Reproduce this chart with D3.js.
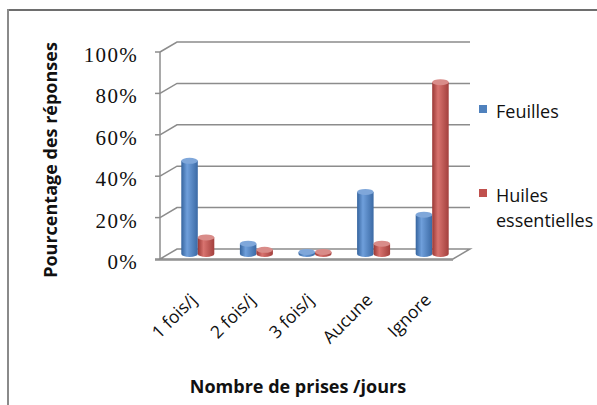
<!DOCTYPE html>
<html>
<head>
<meta charset="utf-8">
<script src="https://cdn.jsdelivr.net/npm/d3@7"></script>
<style>
  html, body { margin: 0; padding: 0; background: #fff; }
  svg { display: block; }
</style>
</head>
<body>
<svg id="chart" width="597" height="405"></svg>
<script>
// Nombre de prises par jour : pourcentage des réponses
const categories = ["1 fois/j", "2 fois/j", "3 fois/j", "Aucune", "Ignore"];
const feuilles = [45, 5, 1, 30, 19];
const huiles = [8, 2, 1, 5, 83];
const yTicks = [0, 20, 40, 60, 80, 100];
const seriesNames = ["Feuilles", "Huiles essentielles"];
const seriesColors = ["#4F81BD", "#C0504D"];

const svg = d3.select("#chart");
const textColor = "#111";

// frame
svg.append("line").attr("x1", 8).attr("x2", 597).attr("y1", 10).attr("y2", 10)
  .attr("stroke", "#6e6e6e").attr("stroke-width", 2);
svg.append("line").attr("x1", 8).attr("x2", 8).attr("y1", 9).attr("y2", 405)
  .attr("stroke", "#8a8a8a").attr("stroke-width", 2);

// 3D projection: front plane scales plus a depth offset
const DX = 17, DY = -10;
const x = d3.scaleBand().domain(categories).range([160, 453]);
const y = d3.scaleLinear().domain([0, 100]).range([259, 52]);
const gridColor = "#8c8c8c";

const grid = svg.append("g");
// back wall gridlines with their diagonal to the axis
yTicks.forEach(t => {
  if (t === 0) return;
  grid.append("polyline")
    .attr("points", [[160, y(t)], [160 + DX, y(t) + DY], [x.range()[1] + DX, y(t) + DY]].join(" "))
    .attr("fill", "none").attr("stroke", gridColor).attr("stroke-width", 1.5);
});
// floor
const x0 = x.range()[0], x1 = x.range()[1];
grid.append("polygon")
  .attr("points", [[x0, y(0)], [x1, y(0)], [x1 + DX, y(0) + DY], [x0 + DX, y(0) + DY]].join(" "))
  .attr("fill", "#fff").attr("stroke", gridColor).attr("stroke-width", 1.5);
grid.append("line").attr("x1", x0 - 5).attr("x2", x1).attr("y1", y(0) + 1).attr("y2", y(0) + 1)
  .attr("stroke", gridColor).attr("stroke-width", 1.5);

// vertical axis with tick marks
grid.append("line").attr("x1", x0).attr("x2", x0).attr("y1", y(100)).attr("y2", y(0))
  .attr("stroke", gridColor).attr("stroke-width", 1.5);
grid.selectAll(".tick").data(yTicks).enter().append("line")
  .attr("x1", x0 - 5).attr("x2", x0).attr("y1", d => y(d)).attr("y2", d => y(d))
  .attr("stroke", gridColor).attr("stroke-width", 1.5);

// y tick labels
svg.append("g").selectAll("text").data(yTicks).enter().append("text")
  .attr("x", 138).attr("y", d => y(d) + 10)
  .attr("text-anchor", "end")
  .attr("font-family", "Liberation Serif, serif").attr("font-size", 21)
  .attr("letter-spacing", 1.3)
  .attr("fill", textColor)
  .text(d => d + "%");

// cylinder gradients
const defs = svg.append("defs");
const shades = [
  ["#35649e", "#6f9fdb", "#3b6aa5"],
  ["#9a3835", "#d8736f", "#a3403d"]
];
shades.forEach((s, i) => {
  const g = defs.append("linearGradient").attr("id", "cyl" + i)
    .attr("x1", "0%").attr("x2", "100%").attr("y1", "0%").attr("y2", "0%");
  g.append("stop").attr("offset", "0%").attr("stop-color", s[0]);
  g.append("stop").attr("offset", "35%").attr("stop-color", s[1]);
  g.append("stop").attr("offset", "100%").attr("stop-color", s[2]);
});
const topColors = ["#7fa7da", "#d98c89"];

// bars (cylinders) at mid depth
const barW = 16.5, ry = 3;
const rows = categories.map((c, i) => ({ cat: c, vals: [feuilles[i], huiles[i]] }));
const bars = svg.append("g");
rows.forEach(r => {
  const cx = x(r.cat) + x.bandwidth() / 2 + DX / 2;
  r.vals.forEach((v, s) => {
    const left = cx - barW + s * barW;
    const yb = y(0) + DY / 2;
    const yt = y(v) + DY / 2;
    const rx = barW / 2;
    bars.append("path")
      .attr("d", `M${left},${yt} L${left},${yb} A${rx},${ry} 0 0 0 ${left + barW},${yb} L${left + barW},${yt} Z`)
      .attr("fill", `url(#cyl${s})`);
    bars.append("ellipse")
      .attr("cx", left + rx).attr("cy", yt).attr("rx", rx).attr("ry", ry)
      .attr("fill", topColors[s]);
  });
});

// x tick labels
svg.append("g").selectAll("text").data(categories).enter().append("text")
  .attr("transform", d => `translate(${x(d) + x.bandwidth() / 2 + DX / 2},${301}) rotate(-45)`)
  .attr("text-anchor", "end")
  .attr("font-family", "Open Sans, sans-serif").attr("font-size", 17.5)
  .attr("fill", textColor)
  .text(d => d);

// axis titles
svg.append("text")
  .attr("transform", "translate(57,160) rotate(-90)")
  .attr("text-anchor", "middle")
  .attr("font-family", "Open Sans, sans-serif").attr("font-weight", "bold").attr("font-size", 18)
  .attr("fill", textColor)
  .text("Pourcentage des réponses");
svg.append("text")
  .attr("x", 298).attr("y", 393)
  .attr("text-anchor", "middle")
  .attr("font-family", "Open Sans, sans-serif").attr("font-weight", "bold").attr("font-size", 18)
  .attr("fill", textColor)
  .text("Nombre de prises /jours");

// legend
const legend = svg.append("g");
const legendY = [105, 189];
seriesNames.forEach((n, i) => {
  legend.append("rect").attr("x", 479).attr("y", legendY[i]).attr("width", 8).attr("height", 8)
    .attr("fill", seriesColors[i]);
  const words = i === 1 ? ["Huiles", "essentielles"] : [n];
  words.forEach((w, k) => {
    legend.append("text")
      .attr("x", 496).attr("y", legendY[i] + 13 + k * 25)
      .attr("font-family", "Open Sans, sans-serif").attr("font-size", 18)
      .attr("fill", textColor)
      .text(w);
  });
});
</script>
</body>
</html>
